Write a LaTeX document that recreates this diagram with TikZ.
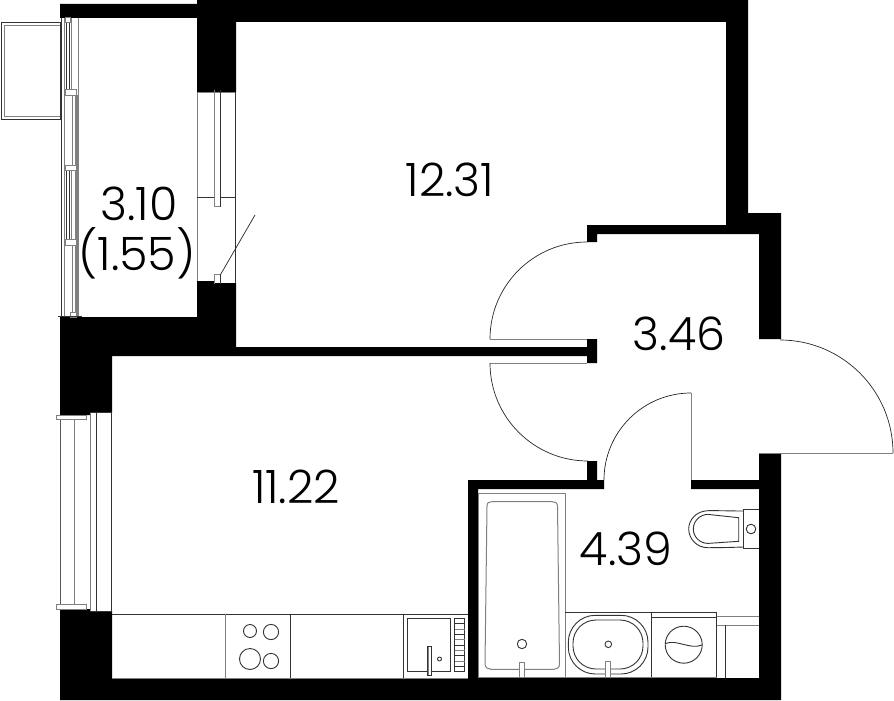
\documentclass[tikz,border=0pt]{standalone}
\usepackage{fontspec}
\setmainfont{Poppins}[UprightFont=* Light]
\tikzset{
  wallfill/.style={fill=black,draw=none},
  dk/.style={draw=black!80,line width=0.9pt},
  gr/.style={draw=black!50,line width=1pt},
  grb/.style={draw=black!50,line width=3pt},
  thin1/.style={draw=black!85,line width=0.7pt},
  area/.style={font=\fontsize{46}{46}\selectfont,text=black,inner sep=0pt},
}
\begin{document}
\begin{tikzpicture}[x=1pt,y=-1pt]
\useasboundingbox (0,0) rectangle (894,701);
\fill[white] (0,0) rectangle (894,701);
% walls
\path[wallfill] (60,4)--(197,4)--(197,0)--(748,0)--(748,213)--(781,213)--(781,339)--(759,339)--(759,234)--(597,234)--(597,242)--(587,242)--(587,225)--(726,225)--(726,22)--(236,22)--(236,92)--(197,92)--(197,18)--(60,18)--cycle;
\path[wallfill] (60,317)--(197,317)--(197,281)--(214,281)--(214,283)--(236,283)--(236,347)--(587,347)--(587,339)--(597,339)--(597,363)--(587,363)--(587,356)--(112,356)--(112,412.5)--(90,412.5)--(90,415)--(60,415)--cycle;
\path[wallfill] (60,609)--(90,609)--(90,611)--(112,611)--(112,678)--(468,678)--(468,480)--(587,480)--(587,461)--(597,461)--(597,480)--(604,480)--(604,489)--(478,489)--(478,678)--(759,678)--(759,489)--(691,489)--(691,480)--(759,480)--(759,453)--(781,453)--(781,700)--(60,700)--cycle;
% doors
\draw[gr] (587,339)--(490,339);
\draw[thin1] (490,339) arc[start angle=180,end angle=270,radius=97];
\draw[gr] (587,363)--(490,363);
\draw[thin1] (490,363) arc[start angle=180,end angle=90,radius=98];
\draw[gr] (691,480)--(691,393);
\draw[thin1] (691,393) arc[start angle=-90,end angle=-180,radius=87];
\draw[gr] (759,453)--(893,453);
\draw[thin1] (893,453) arc[start angle=0,end angle=-90,radius=113];
% balcony door (loggia to room)
\draw[gr] (197,92)--(197,281);
\draw[gr] (197,92)--(236,92);
\draw[dk] (235.5,92)--(235.5,283);
\draw[dk] (197,197.3)--(236,197.3);
\draw[gr,fill=white] (214,90)--(214,206.5)--(220.7,206.5);
\draw[dk] (220.7,206.5)--(220.7,90);
\draw[gr,fill=white] (214,283.7)--(214,274.3)--(220.7,274.3);
\draw[dk] (220.7,274.3)--(220.7,283.7);
\draw[thin1] (220.7,274.3)--(255,215);
% loggia glazing
\draw[dk] (1,22.3) rectangle (60.5,119.3);
\draw[gr] (4,25.3)--(4,116.3)--(60,116.3);
\draw[gr] (4,25.3)--(60,25.3);
\draw[dk] (61,18)--(61,317);
\draw[gr] (64.5,18)--(64.5,317);
\draw[gr] (78.3,18)--(78.3,317);
\draw[gr] (71.5,18)--(71.5,90);
\draw[dk] (66.5,23)--(66.5,90);
\draw[dk] (69,23)--(69,90);
\draw[gr] (71.5,170)--(71.5,239);
\draw[dk] (66.5,170)--(66.5,239);
\draw[dk] (69,170)--(69,239);
\draw[gr] (72,95)--(72,165);
\draw[gr] (72,245)--(72,312);
\draw[grb] (76.5,95)--(76.5,317);
\foreach \yy in {89.5,165,239.3}
  \draw[gr,fill=white] (65,\yy) rectangle (76,\yy+5.7);
\draw[gr,fill=white] (65,18) rectangle (70.5,23);
\draw[gr,fill=white] (70.5,312) rectangle (76,317);
\draw[dk] (58,316.5)--(82,316.5);
% left window
\draw[gr] (90,412.5)--(90,611);
\draw[dk] (90,412.5)--(112,412.5);
\draw[dk] (90,611)--(112,611);
\draw[dk] (96.7,412.5)--(96.7,611);
\draw[dk] (111.7,412.5)--(111.7,611);
\draw[draw=black!65,line width=1.4pt] (60.7,419)--(60.7,604);
\draw[gr] (74,419)--(74,604);
\draw[gr,fill=white] (56.7,415) rectangle (86.7,419);
\draw[gr,fill=white] (56.7,604.5) rectangle (86.7,609);
% kitchen
\draw[dk] (112,614.3)--(468,614.3);
\draw[gr] (225.7,614.3)--(225.7,678);
\draw[dk] (290.3,614.3)--(290.3,678);
\draw[dk] (403.3,614.3)--(403.3,678);
\draw[gr] (112,678)--(468,678);
\draw[dk] (250,631) circle[radius=6.5];
\draw[dk] (271,632) circle[radius=7.6];
\draw[dk] (250,659) circle[radius=10.5];
\draw[dk] (271,661) circle[radius=7.6];
\draw[dk] (407.3,618.3) rectangle (450.5,671.7);
\draw[dk] (439.5,659) circle[radius=2];
\draw[dk,fill=white] (427,646) rectangle (431,675.4);
\draw[gr] (428.8,647)--(428.8,675);
\draw[dk] (454.7,618.3) rectangle (464.7,671.7);
\foreach \yy in {623.6,634.3,645,655.7,666.4} \draw[dk] (454.7,\yy)--(464.7,\yy);
\foreach \yy in {629,639.7,650.4,661.1} \draw[gr] (454.7,\yy)--(464.7,\yy);
% bath
\draw[gr] (478,493.7) rectangle (565,677);
\draw[gr] (487,506)
  .. controls (487,502.5) and (489,501.7) .. (492,501.7)--(552,501.7)
  .. controls (555,501.7) and (557.3,502.5) .. (557.5,506)
  --(559.5,664)
  .. controls (559.5,667.5) and (557,669.3) .. (554,669.3)--(491,669.3)
  .. controls (488,669.3) and (485,667.5) .. (485,664)--cycle;
\draw[dk] (522,644) circle[radius=4.7];
\draw[gr,fill=white] (519.3,677)--(519.3,662.3)--(524.7,662.3)--(524.7,677);
% basin
\draw[dk] (565,612.3)--(716.7,612.3);
\draw[dk] (565,677)--(716.7,677);
\draw[dk] (651,612.3)--(651,677);
\draw[dk] (716.7,612.3)--(716.7,678);
\draw[dk] (651,617)--(716.7,617);
\draw[dk,rounded corners=27pt] (568.3,615.3) rectangle (648,674);
\draw[dk,rounded corners=23pt] (573,620) rectangle (643,669);
\draw[dk] (608.3,644.3) circle[radius=3.3];
\draw[gr,fill=white] (605.6,677)--(605.6,661)--(610.6,661)--(610.6,677);
% washer
\draw[dk] (683.7,644.7) circle[radius=18.5];
\draw[dk] (665.5,643.5) .. controls (677,639) and (690,650) .. (702,645);
% right cabinet
\draw[gr] (717,616)--(759,616);
\draw[gr] (717,625)--(759,625);
\draw[dk] (725.3,625)--(725.3,678);
\draw[gr] (565,677.5)--(717,677.5);
% toilet
\draw[dk] (759,509.3)--(743.3,509.3)--(743.3,548)--(759,548);
\draw[dk] (751,529) circle[radius=4.8];
\draw[dk] (743.3,511) .. controls (730,511) and (718,510.5) .. (708,510.7)
  .. controls (696,511) and (688.7,520) .. (688.7,529)
  .. controls (688.7,538) and (696,547.7) .. (708,547.7)
  .. controls (718,547.7) and (730,547.5) .. (743.3,547);
\draw[dk] (738.7,517.7) -- (708,514.4)
  .. controls (700,514.4) and (693.3,521) .. (693.3,529)
  .. controls (693.3,537) and (700,543.4) .. (708,543.4)
  -- (738.7,541.3) -- cycle;
% labels
\node[area] (a1) at (450,180) {12.31};
\node[area] (a2) at (139,204) {3.10};
\node[area] (a3) at (137,253) {(1.55)};
\node[area] (a4) at (679,334) {3.46};
\node[area] (a5) at (296,487) {11.22};
\node[area] (a6) at (626,549) {4.39};
\end{tikzpicture}
\end{document}
